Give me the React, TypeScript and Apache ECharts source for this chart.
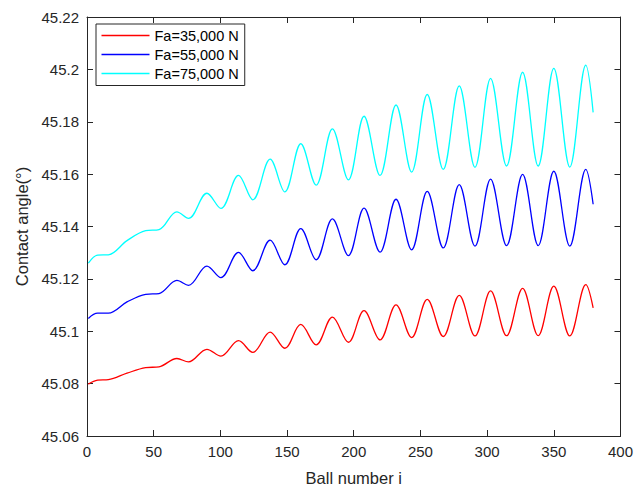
import React, { useEffect, useRef } from "react";
import * as echarts from "echarts";

// Ball index at which each value was read (start, shoulders, then alternating peaks/troughs, end)
const ballIndex = [
  1, 8, 16, 30, 44, 54, 67.4, 76.1, 89.9, 100.4, 113.6, 124.3, 137.3, 148.3, 160.3, 171.8,
  184, 196, 207.7, 219.7, 231.7, 243.4, 255.1, 267.1, 279.1, 290.9, 302.6, 314.6, 326.6,
  338.3, 350, 362, 374, 379.5,
];

const fa35000 = [
  45.0798, 45.0813, 45.0815, 45.084, 45.0861, 45.0864, 45.0896, 45.0883, 45.0931, 45.0905,
  45.0964, 45.0919, 45.0997, 45.0935, 45.1026, 45.0948, 45.1054, 45.0958, 45.1079, 45.0967,
  45.1101, 45.0976, 45.1122, 45.098, 45.1137, 45.0982, 45.1154, 45.0983, 45.1164, 45.0983,
  45.1172, 45.0982, 45.1178, 45.1089,
];

const fa55000 = [
  45.1049, 45.1069, 45.1069, 45.1112, 45.1141, 45.1144, 45.1194, 45.1175, 45.1249, 45.1205,
  45.1301, 45.1231, 45.1348, 45.1254, 45.1392, 45.1273, 45.1429, 45.1289, 45.147, 45.1302,
  45.1504, 45.1311, 45.1534, 45.1318, 45.156, 45.1325, 45.1581, 45.1327, 45.1599, 45.1327,
  45.1611, 45.1325, 45.1618, 45.1485,
];

const fa75000 = [
  45.126, 45.1291, 45.1292, 45.1346, 45.1384, 45.1388, 45.1456, 45.1431, 45.1527, 45.1469,
  45.1595, 45.1502, 45.1657, 45.1532, 45.1716, 45.1558, 45.1773, 45.1578, 45.1821, 45.1595,
  45.1864, 45.1608, 45.1904, 45.1618, 45.1937, 45.1626, 45.1966, 45.1631, 45.1989, 45.1631,
  45.2004, 45.1627, 45.2016, 45.1836,
];

const seriesNames = ["Fa=35,000 N", "Fa=55,000 N", "Fa=75,000 N"];
const seriesColors = ["#ff0000", "#0000ff", "#00ffff"];

const AXIS_COLOR = "#262626";
const FONT = "'Liberation Sans', Arial, Helvetica, sans-serif";

export default function App() {
  const ref = useRef<HTMLDivElement>(null);

  useEffect(() => {
    document.body.style.margin = "0";
    if (!ref.current) return;
    const chart = echarts.init(ref.current, undefined, { renderer: "svg" });

    const allValues = [fa35000, fa55000, fa75000];
    const series = allValues.map((vals, k) => ({
      name: seriesNames[k],
      type: "line",
      data: vals.map((v, i) => [ballIndex[i], v]),
      smooth: 0.36,
      symbol: "none",
      lineStyle: { color: seriesColors[k], width: 1.3 },
      itemStyle: { color: seriesColors[k] },
      xAxisIndex: 0,
      yAxisIndex: 0,
    }));

    const xCommon = {
      type: "value",
      min: 0,
      max: 400,
      interval: 50,
      axisLine: { show: true, onZero: false, lineStyle: { color: AXIS_COLOR, width: 1 } },
      axisTick: { show: true, inside: true, length: 6, lineStyle: { color: AXIS_COLOR } },
      splitLine: { show: false },
    };
    const yCommon = {
      type: "value",
      min: 45.06,
      max: 45.22,
      interval: 0.02,
      scale: true,
      axisLine: { show: true, onZero: false, lineStyle: { color: AXIS_COLOR, width: 1 } },
      axisTick: { show: true, inside: true, length: 6, lineStyle: { color: AXIS_COLOR } },
      splitLine: { show: false },
    };

    chart.setOption({
      animation: false,
      backgroundColor: "#ffffff",
      textStyle: { fontFamily: FONT },
      grid: { left: 87, right: 15, top: 17, bottom: 53, containLabel: false },
      legend: {
        orient: "vertical",
        left: 96,
        top: 24,
        icon: "rect",
        itemWidth: 48,
        itemHeight: 1.3,
        itemGap: 4,
        padding: [4, 6, 4.5, 5.5],
        borderColor: AXIS_COLOR,
        borderWidth: 1,
        backgroundColor: "#ffffff",
        textStyle: { fontSize: 14.5, color: "#000000", fontFamily: FONT },
        data: seriesNames,
      },
      xAxis: [
        {
          ...xCommon,
          position: "bottom",
          axisLabel: { show: true, fontSize: 15, color: AXIS_COLOR, margin: 8, fontFamily: FONT },
          name: "Ball number i",
          nameLocation: "middle",
          nameGap: 33,
          nameTextStyle: { fontSize: 16.5, color: AXIS_COLOR, fontFamily: FONT },
        },
        {
          ...xCommon,
          position: "top",
          axisLabel: { show: false },
        },
      ],
      yAxis: [
        {
          ...yCommon,
          position: "left",
          axisLabel: {
            show: true,
            fontSize: 15,
            color: AXIS_COLOR,
            margin: 8,
            fontFamily: FONT,
            formatter: (v: number) => String(parseFloat(v.toFixed(2))),
          },
          name: "Contact angle(°)",
          nameLocation: "middle",
          nameRotate: 90,
          nameGap: 53,
          nameTextStyle: { fontSize: 16.5, color: AXIS_COLOR, fontFamily: FONT },
        },
        {
          ...yCommon,
          position: "right",
          axisLabel: { show: false },
        },
      ],
      series,
    });

    return () => chart.dispose();
  }, []);

  return <div ref={ref} style={{ width: 636, height: 491 }} />;
}
